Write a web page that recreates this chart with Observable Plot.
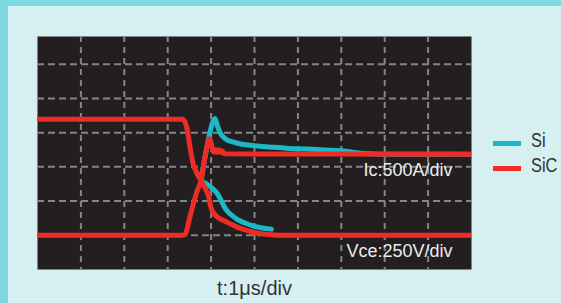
<!DOCTYPE html>
<html>
<head>
<meta charset="utf-8">
<script src="https://cdn.jsdelivr.net/npm/d3@7"></script>
<script src="https://cdn.jsdelivr.net/npm/@observablehq/plot@0.6"></script>
<style>
  html, body { margin: 0; padding: 0; }
  #wrap {
    position: relative; width: 561px; height: 303px; overflow: hidden;
    background: #d6eff0; box-shadow: inset 8px 6px 0 #7dd8e0;
    font-family: "Liberation Sans", Arial, sans-serif;
  }
  #wrap svg { position: absolute; left: 0; top: 0; }
  .leg { position: absolute; left: 493px; }
  .sw { position: absolute; left: 0; width: 28px; height: 5px; }
  .lt { position: absolute; left: 38px; font-size: 19.5px; line-height: 20px; color: #333; white-space: nowrap; transform: scaleX(0.84); transform-origin: 0 50%; }
</style>
</head>
<body>
<div id="wrap"></div>
<script>
// time axis: 1 µs per division; levels in divisions (zero line = 0)
const timeDomain = [0, 10];
const levelDomain = [-1, 5.81];
const timeGrid = [1, 2, 3, 4, 5, 6, 7, 8, 9];
const levelGrid = [0, 1, 2, 3, 4, 5];

const seriesNames = ["Si", "SiC"];
const seriesColors = ["#1bb9c7", "#ee2c25"];

// SiC (red)
const sicVce = [[0,3.39],[3.33,3.39],[3.40,3.31],[3.46,3.02],[3.53,2.45],[3.59,2.08],[3.67,1.82],[3.77,1.60],[3.87,1.35],[3.95,1.10],[3.98,0.90],[4.01,0.76],[4.07,0.63],[4.16,0.52],[4.29,0.43],[4.45,0.33],[4.60,0.24],[4.80,0.15],[4.98,0.09],[5.20,0.04],[5.45,0.01],[5.70,0],[10,0]];
const sicIc = [[0,0],[3.36,0],[3.41,0.05],[3.53,0.63],[3.68,1.30],[3.77,1.62],[3.84,2.15],[3.91,2.62],[3.96,2.82],[4.00,2.70],[4.04,2.48],[4.07,2.43],[4.10,2.51],[4.14,2.42],[4.18,2.50],[4.22,2.42],[4.26,2.46],[4.31,2.38],[10,2.37]];

// Si (cyan)
const siVce = [[3.68,1.82],[3.77,1.60],[3.90,1.50],[4.04,1.36],[4.14,1.22],[4.22,1.05],[4.31,0.82],[4.40,0.67],[4.48,0.58],[4.62,0.45],[4.78,0.36],[4.98,0.27],[5.15,0.22],[5.39,0.18]];
const siIc = [[3.77,1.62],[3.84,2.15],[3.91,2.62],[3.97,2.98],[4.03,3.28],[4.09,3.41],[4.14,3.22],[4.22,2.97],[4.33,2.82],[4.52,2.72],[4.68,2.67],[4.91,2.63],[5.44,2.57],[5.80,2.54],[6.21,2.52],[6.60,2.49],[6.98,2.47],[7.25,2.43],[7.55,2.39],[7.90,2.37],[10,2.37]];

const channelLabels = ["Ic:500A/div", "Vce:250V/div"];
const timeLabel = "t:1\u03bcs/div";

const labelData = [
  {text: channelLabels[0], p: sicIc[sicIc.length - 1]},
  {text: channelLabels[1], p: sicVce[sicVce.length - 1]}
];

const gridStyle = {stroke: "#858585", strokeOpacity: 1, strokeWidth: 2};
const lineOpts = (color) => ({x: d => d[0], y: d => d[1], stroke: color, strokeWidth: 5, curve: "monotone-x", strokeLinecap: "round", strokeLinejoin: "round", clip: true});

const chart = Plot.plot({
  width: 561, height: 303,
  marginLeft: 37, marginRight: 90, marginTop: 36, marginBottom: 34,
  style: {background: "transparent", fontFamily: "'Liberation Sans', Arial, sans-serif", overflow: "visible"},
  x: {domain: timeDomain, axis: null},
  y: {domain: levelDomain, axis: null},
  marks: [
    Plot.frame({fill: "#231f20", stroke: null}),
    Plot.gridY(levelGrid, {...gridStyle, strokeDasharray: "7,4"}),
    Plot.gridX(timeGrid, {...gridStyle, strokeDasharray: "6,5"}),
    Plot.line(siVce, lineOpts(seriesColors[0])),
    Plot.line(siIc, lineOpts(seriesColors[0])),
    Plot.line(sicVce, lineOpts(seriesColors[1])),
    Plot.line(sicIc, lineOpts(seriesColors[1])),
    Plot.text(labelData, {x: d => d.p[0], y: d => d.p[1], text: "text", textAnchor: "end", lineAnchor: "bottom", dx: -19, dy: 22, fontSize: 18, fill: "#ececec"}),
    Plot.text([timeLabel], {frameAnchor: "bottom", lineAnchor: "bottom", dy: 25, fontSize: 20, fill: "#333"})
  ]
});

const wrap = document.getElementById("wrap");
wrap.appendChild(chart);

seriesNames.forEach((name, i) => {
  const item = document.createElement("div");
  item.className = "leg";
  item.style.top = (141 + i * 25) + "px";
  const sw = document.createElement("div");
  sw.className = "sw";
  sw.style.background = seriesColors[i];
  sw.style.top = "0px";
  const lt = document.createElement("div");
  lt.className = "lt";
  lt.style.top = "-11px";
  lt.textContent = name;
  item.appendChild(sw);
  item.appendChild(lt);
  wrap.appendChild(item);
});
</script>
</body>
</html>
